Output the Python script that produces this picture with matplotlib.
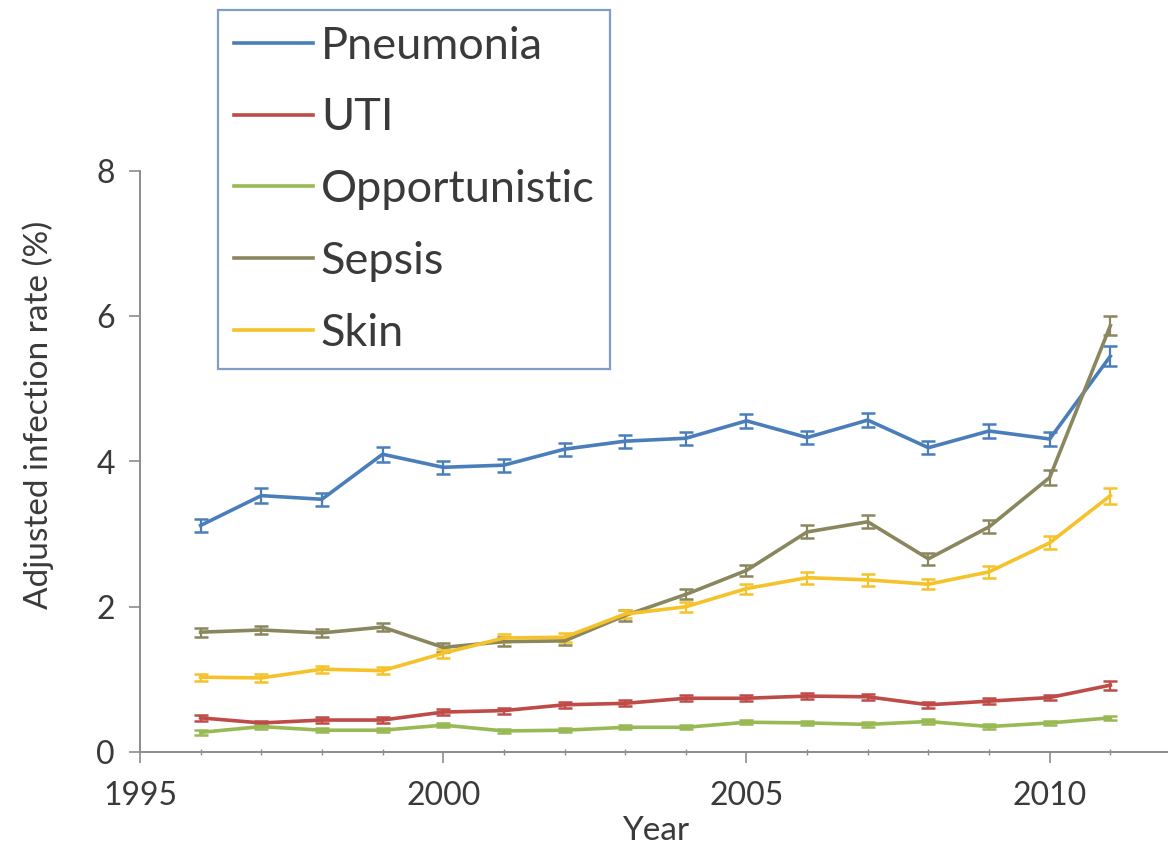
import matplotlib
matplotlib.use("Agg")
import matplotlib.pyplot as plt
from matplotlib.ticker import MultipleLocator

plt.rcParams['font.family'] = ['Lato', 'DejaVu Sans']

years = list(range(1996, 2012))

pneumonia = [3.12, 3.53, 3.48, 4.10, 3.92, 3.95, 4.17, 4.28, 4.32, 4.56, 4.33, 4.57, 4.19, 4.42, 4.31, 5.45]
pneumonia_err = [0.09, 0.10, 0.09, 0.10, 0.09, 0.09, 0.09, 0.09, 0.09, 0.10, 0.09, 0.10, 0.09, 0.10, 0.09, 0.14]

uti = [0.47, 0.40, 0.44, 0.44, 0.55, 0.57, 0.65, 0.67, 0.74, 0.74, 0.77, 0.76, 0.65, 0.70, 0.75, 0.92]
uti_err = [0.04, 0.03, 0.04, 0.04, 0.04, 0.04, 0.04, 0.04, 0.04, 0.04, 0.04, 0.04, 0.04, 0.04, 0.04, 0.06]

opportunistic = [0.27, 0.35, 0.30, 0.30, 0.37, 0.29, 0.30, 0.34, 0.34, 0.41, 0.40, 0.38, 0.42, 0.35, 0.40, 0.47]
opportunistic_err = [0.03] * 16

sepsis = [1.65, 1.68, 1.64, 1.72, 1.44, 1.52, 1.53, 1.88, 2.17, 2.50, 3.03, 3.17, 2.66, 3.10, 3.78, 5.87]
sepsis_err = [0.06, 0.06, 0.06, 0.06, 0.06, 0.06, 0.06, 0.07, 0.07, 0.08, 0.09, 0.09, 0.08, 0.09, 0.10, 0.13]

skin = [1.03, 1.02, 1.14, 1.12, 1.36, 1.57, 1.58, 1.90, 2.00, 2.25, 2.40, 2.37, 2.31, 2.48, 2.88, 3.53]
skin_err = [0.05, 0.05, 0.05, 0.05, 0.06, 0.06, 0.06, 0.06, 0.07, 0.07, 0.08, 0.08, 0.07, 0.08, 0.09, 0.11]

series = [
    ("Pneumonia", pneumonia, pneumonia_err, "#4A7EBB"),
    ("UTI", uti, uti_err, "#BE4B48"),
    ("Opportunistic", opportunistic, opportunistic_err, "#98B954"),
    ("Sepsis", sepsis, sepsis_err, "#8A875E"),
    ("Skin", skin, skin_err, "#F5C22A"),
]

x_ticks = [1995, 2000, 2005, 2010]
y_ticks = [0, 2, 4, 6, 8]

W, H = 1168, 847
fig = plt.figure(figsize=(W / 100, H / 100), dpi=100)
ax = fig.add_axes([140 / W, 1 - 752 / H, (1171 - 140) / W, (752 - 171) / H])

handles = []
for name, vals, errs, color in series:
    ax.errorbar(years, vals, yerr=errs, color=color, lw=2.6, capsize=5,
                capthick=1.8, elinewidth=1.6, zorder=3)
    h, = ax.plot([], [], color=color, lw=2.6, label=name)
    handles.append(h)

ax.set_xlim(1995, 2012)
ax.set_ylim(0, 8)
ax.set_xticks(x_ticks)
ax.set_yticks(y_ticks)
ax.xaxis.set_minor_locator(MultipleLocator(1))

spine_color = "#8C8C8C"
text_color = "#3A3A3A"
for side in ("top", "right"):
    ax.spines[side].set_visible(False)
for side in ("left", "bottom"):
    ax.spines[side].set_color(spine_color)
    ax.spines[side].set_linewidth(1.4)

ax.tick_params(axis="both", which="major", colors=spine_color, width=1.2,
               length=8, labelsize=23, labelcolor=text_color)
ax.tick_params(axis="x", which="major", pad=13)
ax.tick_params(axis="y", which="major", pad=10)
ax.tick_params(axis="x", which="minor", colors=spine_color, width=1.0,
               length=4, direction="inout")

ax.set_xlabel("Year", fontsize=24, color=text_color)
ax.xaxis.set_label_coords(0.5, -0.11)
ax.set_ylabel("Adjusted infection rate (%)", fontsize=24, color=text_color)
ax.yaxis.set_label_coords(-0.083, 0.58)

leg = fig.legend(handles=handles, loc="upper left",
                 bbox_to_anchor=(218 / W, 1 - 10 / H), borderaxespad=0,
                 fontsize=32.5, handlelength=1.75, handletextpad=0.18,
                 labelspacing=0.68, borderpad=0.35, fancybox=False,
                 framealpha=1)
leg.get_frame().set_edgecolor("#7F9DC5")
leg.get_frame().set_linewidth(1.6)
for t in leg.get_texts():
    t.set_color(text_color)

fig.savefig("out.png", dpi=100)
